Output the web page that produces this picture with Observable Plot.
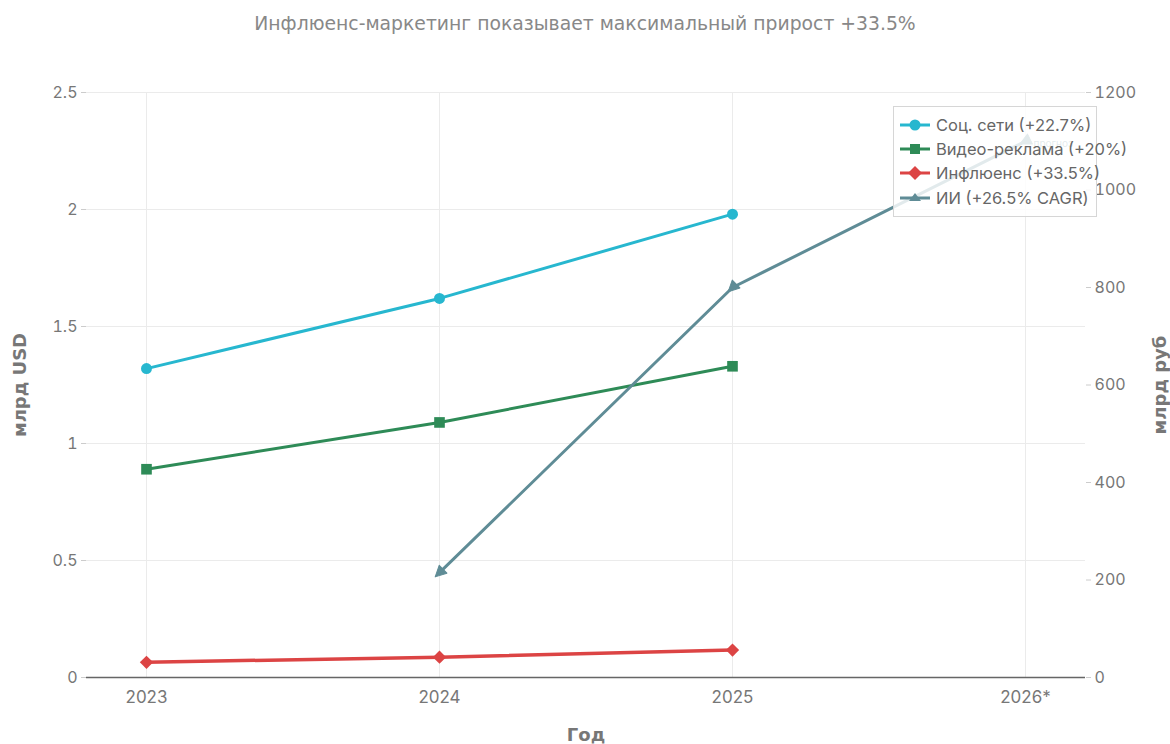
<!DOCTYPE html>
<html><head><meta charset="utf-8">
<script src="https://cdn.jsdelivr.net/npm/d3@7"></script>
<script src="https://cdn.jsdelivr.net/npm/@observablehq/plot@0.6"></script>
<style>
body{margin:0;background:#fff;}
#wrap{position:relative;width:1170px;height:744px;overflow:hidden;}
#title{height:50px;text-align:center;font-family:"DejaVu Sans",sans-serif;font-size:18.8px;color:#888;line-height:48px;}
#legend{position:absolute;left:893px;top:106px;width:204px;height:111px;box-sizing:border-box;border:1px solid #d6d6d6;background:rgba(255,255,255,0.82);font-family:Inter,sans-serif;font-size:16.5px;color:#666;white-space:nowrap;}
#legend .row{position:absolute;left:6px;height:20px;display:flex;align-items:center;}
#legend svg{margin-right:6px;}
</style></head>
<body><div id="wrap"><div id="title"></div><div id="chart"></div><div id="legend"></div></div>
<script>
const titleText = "Инфлюенс-маркетинг показывает максимальный прирост +33.5%";
const years = ["2023", "2024", "2025", "2026*"];
const usdYears = ["2023", "2024", "2025"];
const socialUSD = [1.32, 1.62, 1.98];
const videoUSD = [0.89, 1.09, 1.33];
const influenceUSD = [0.065, 0.087, 0.117];
const aiYears = ["2024", "2025", "2026*"];
const aiRUB = [215, 800, 1100];
const seriesNames = ["Соц. сети (+22.7%)", "Видео-реклама (+20%)", "Инфлюенс (+33.5%)", "ИИ (+26.5% CAGR)"];
const seriesColors = ["#27b7cf", "#2e8b57", "#dc4444", "#5f8c96"];
const seriesSymbols = ["circle", "square", "diamond", "arrow"];
const leftTicks = [0, 0.5, 1, 1.5, 2, 2.5];
const rightTicks = [0, 200, 400, 600, 800, 1000, 1200];
const forecastLabel = "прогноз";
const xLabel = "Год", yLeftLabel = "млрд USD", yRightLabel = "млрд руб";

document.getElementById("title").textContent = titleText;

const W = 1170, H = 694, mL = 86, mR = 85, mT = 42, mB = 67;
const yMax = leftTicks[leftTicks.length - 1];
const k = yMax / rightTicks[rightTicks.length - 1]; // rub -> usd-axis units
const xPad = 0.2;

const social = usdYears.map((d, i) => ({year: d, v: socialUSD[i]}));
const video = usdYears.map((d, i) => ({year: d, v: videoUSD[i]}));
const influence = usdYears.map((d, i) => ({year: d, v: influenceUSD[i]}));
const stepPx = (W - mL - mR) / (years.length - 1 + 2 * xPad);
const pxPerUnit = (H - mT - mB) / yMax;
const ai = aiYears.map((d, i) => {
  const a = i === 0 ? 0 : i - 1, b = i === 0 ? 1 : i;
  const dx = (years.indexOf(aiYears[b]) - years.indexOf(aiYears[a])) * stepPx;
  const dy = (aiRUB[b] - aiRUB[a]) * k * pxPerUnit;
  const ang = Math.atan2(dx, dy) * 180 / Math.PI + 180;
  return {year: d, v: aiRUB[i] * k, rot: ang};
});

const triShape = {draw(ctx, l) { const c = -l / 2; ctx.moveTo(0, c - 6); ctx.lineTo(5.5, c + 5); ctx.lineTo(-5.5, c + 5); ctx.closePath(); }};
const tickFont = "Inter, sans-serif";
const titleFont = "'DejaVu Sans', sans-serif";

const chart = Plot.plot({
  width: W, height: H, marginLeft: mL, marginRight: mR, marginTop: mT, marginBottom: mB,
  x: {type: "point", domain: years, padding: xPad},
  y: {domain: [0, yMax], nice: false},
  style: {fontFamily: tickFont, fontSize: "16px", color: "#777", background: "#fff"},
  marks: [
    Plot.gridX(years, {stroke: "#ebebeb", strokeOpacity: 1, strokeWidth: 1}),
    Plot.gridY(leftTicks.filter(d => d > 0), {stroke: "#ebebeb", strokeOpacity: 1, strokeWidth: 1}),
    Plot.ruleY([0], {stroke: "#666", strokeWidth: 1.4}),
    Plot.axisX({tickSize: 0, tickPadding: 13, label: null, fontSize: 17, fill: "#777"}),
    Plot.axisY({ticks: leftTicks, tickSize: 5, tickPadding: 4, label: null, stroke: "#ccc", fill: "#777", fontSize: 16, tickFormat: d => String(d)}),
    Plot.axisY({anchor: "right", ticks: rightTicks.map(v => v * k), tickSize: 5, tickPadding: 4, label: null, stroke: "#ccc", fill: "#777", fontSize: 16, tickFormat: d => String(Math.round(d / k))}),
    Plot.text([yLeftLabel], {frameAnchor: "left", textAnchor: "middle", dx: -66, rotate: -90, fontSize: 18, fontWeight: "bold", fill: "#777", fontFamily: titleFont}),
    Plot.text([yRightLabel], {frameAnchor: "right", textAnchor: "middle", dx: 75, rotate: -90, fontSize: 18, fontWeight: "bold", fill: "#777", fontFamily: titleFont}),
    Plot.text([xLabel], {frameAnchor: "bottom", dy: 63, fontSize: 18, fontWeight: "bold", fill: "#777", fontFamily: titleFont}),
    Plot.line(social, {x: "year", y: "v", stroke: seriesColors[0], strokeWidth: 3}),
    Plot.dot(social, {x: "year", y: "v", fill: seriesColors[0], r: 5.5, symbol: "circle"}),
    Plot.line(video, {x: "year", y: "v", stroke: seriesColors[1], strokeWidth: 3}),
    Plot.dot(video, {x: "year", y: "v", fill: seriesColors[1], r: 6, symbol: "square"}),
    Plot.line(influence, {x: "year", y: "v", stroke: seriesColors[2], strokeWidth: 3.5}),
    Plot.dot(influence, {x: "year", y: "v", fill: seriesColors[2], r: 6, symbol: "diamond2"}),
    Plot.line(ai, {x: "year", y: "v", stroke: seriesColors[3], strokeWidth: 3}),
    Plot.vector(ai, {x: "year", y: "v", rotate: "rot", length: 10, anchor: "middle", shape: triShape, fill: seriesColors[3], stroke: seriesColors[3], strokeWidth: 1}),
    Plot.text(ai.slice(-1), {x: "year", y: "v", text: () => forecastLabel, dx: 8, dy: 3, textAnchor: "start", fontSize: 10, fill: seriesColors[3]})
  ]
});
document.getElementById("chart").appendChild(chart);

// legend
const legend = document.getElementById("legend");
const symPaths = {
  circle: '<circle cx="15" cy="10" r="5.5"/>',
  square: '<rect x="10" y="5" width="10" height="10"/>',
  diamond: '<path d="M15 3 L22 10 L15 17 L8 10 Z"/>',
  arrow: '<path d="M15 5 L21 13 L9 13 Z"/>'
};
const rowTops = [8, 32, 56, 81];
seriesNames.forEach((name, i) => {
  const row = document.createElement("div");
  row.className = "row";
  row.style.top = rowTops[i] + "px";
  row.innerHTML = `<svg width="30" height="20"><line x1="0" x2="30" y1="10" y2="10" stroke="${seriesColors[i]}" stroke-width="3"/><g fill="${seriesColors[i]}">${symPaths[seriesSymbols[i]]}</g></svg><span></span>`;
  row.querySelector("span").textContent = name;
  legend.appendChild(row);
});
</script>
</body></html>
